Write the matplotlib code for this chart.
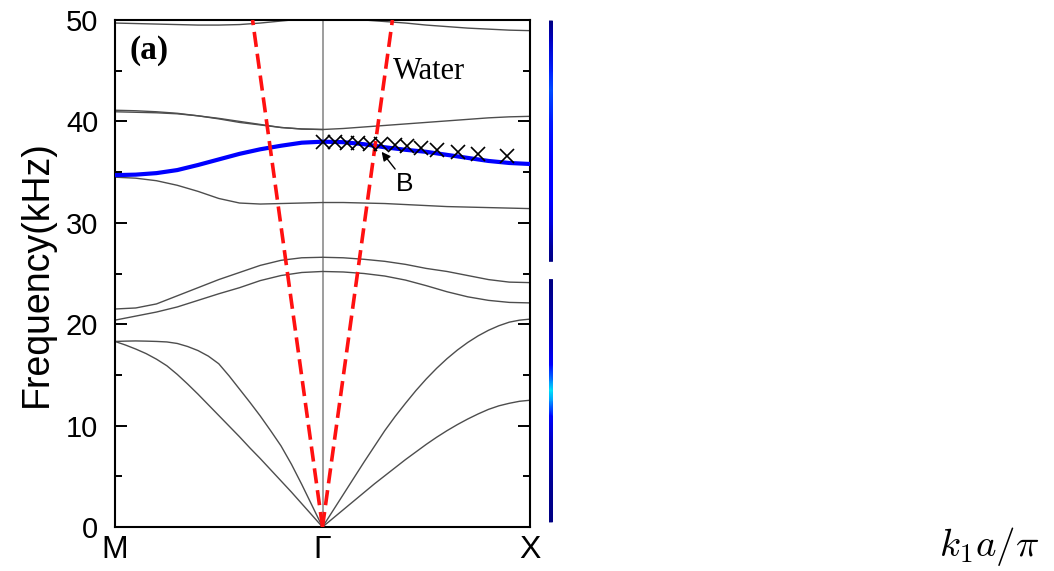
import numpy as np
import matplotlib
matplotlib.use('Agg')
import matplotlib.pyplot as plt
from matplotlib.ticker import MultipleLocator

plt.rcParams['font.family'] = ['Liberation Sans', 'DejaVu Sans']
plt.rcParams['mathtext.fontset'] = 'cm'

# ---------------- data ----------------
# wave-vector coordinate: -1 = M, 0 = Gamma, 1 = X
k_grid = [-1.0, -0.9, -0.8, -0.7, -0.6, -0.5, -0.4, -0.3, -0.2, -0.1, 0.0,
          0.1, 0.2, 0.3, 0.4, 0.5, 0.6, 0.7, 0.8, 0.9, 1.0]
k_left = k_grid[:11]
k_right = k_grid[10:]
k_left_fine = [-1.0, -0.95, -0.9, -0.85, -0.8, -0.75, -0.7, -0.65, -0.6, -0.55,
               -0.5, -0.45, -0.4, -0.35, -0.3, -0.25, -0.2, -0.15, -0.1, -0.05, 0.0]
k_right_fine = [0.0, 0.05, 0.1, 0.15, 0.2, 0.25, 0.3, 0.35, 0.4, 0.45, 0.5,
                0.55, 0.6, 0.65, 0.7, 0.75, 0.8, 0.85, 0.9, 0.95, 1.0]

# acoustic branches (kHz)
acoustic_left_lower = [18.3, 17.95, 17.55, 17.1, 16.55, 15.9, 15.05, 14.1, 13.1, 12.05,
                       11.0, 9.95, 8.9, 7.8, 6.75, 5.65, 4.55, 3.45, 2.3, 1.15, 0.0]
acoustic_left_upper = [18.3, 18.33, 18.35, 18.33, 18.3, 18.25, 18.1, 17.8, 17.4, 16.85,
                       16.1, 14.9, 13.6, 12.3, 10.95, 9.5, 8.0, 6.2, 4.2, 2.1, 0.0]
acoustic_right_upper = [0.0, 1.6, 3.2, 4.8, 6.4, 7.95, 9.5, 10.9, 12.2, 13.45, 14.6,
                        15.65, 16.6, 17.45, 18.2, 18.85, 19.4, 19.85, 20.2, 20.4, 20.5]
acoustic_right_lower = [0.0, 0.85, 1.7, 2.55, 3.4, 4.25, 5.05, 5.85, 6.65, 7.4, 8.15,
                        8.85, 9.5, 10.1, 10.65, 11.15, 11.6, 11.95, 12.2, 12.4, 12.5]

# full bands along M - Gamma - X
band_c = [21.5, 21.6, 22.0, 22.8, 23.6, 24.4, 25.1, 25.8, 26.3, 26.55, 26.6,
          26.55, 26.4, 26.2, 25.9, 25.5, 25.2, 24.8, 24.4, 24.15, 24.1]
band_d = [20.4, 20.8, 21.2, 21.7, 22.35, 23.0, 23.6, 24.3, 24.8, 25.1, 25.2,
          25.15, 25.0, 24.75, 24.35, 23.8, 23.2, 22.7, 22.35, 22.15, 22.1]
band_e = [34.5, 34.4, 34.15, 33.7, 33.1, 32.4, 31.95, 31.85, 31.9, 31.95, 32.0,
          32.0, 31.95, 31.9, 31.8, 31.7, 31.6, 31.55, 31.5, 31.45, 31.4]
band_blue = [34.7, 34.75, 34.9, 35.2, 35.7, 36.25, 36.8, 37.25, 37.6, 37.9, 38.0,
             37.95, 37.75, 37.45, 37.2, 37.0, 36.7, 36.4, 36.1, 35.9, 35.8]
band_f = [40.95, 40.9, 40.85, 40.75, 40.55, 40.3, 40.0, 39.7, 39.4, 39.25, 39.2,
          39.3, 39.45, 39.6, 39.75, 39.9, 40.05, 40.2, 40.35, 40.45, 40.5]
band_f2_left = [41.1, 41.05, 40.95, 40.8, 40.55, 40.25, 39.9, 39.65, 39.4, 39.25, 39.2]
band_g_left = [49.7, 49.65, 49.6, 49.55, 49.5, 49.5, 49.55, 49.7, 49.9, 50.1, 50.2]
band_g_right = [50.2, 50.15, 50.0, 49.85, 49.7, 49.5, 49.35, 49.2, 49.1, 49.0, 48.95]

# water sound line
water_k_left = [0.0, -0.337]
water_k_right = [0.0, 0.337]
water_f = [0.0, 50.0]

# measured points (crosses)
cross_k = [0.0, 0.058, 0.116, 0.169, 0.227, 0.284, 0.347, 0.405, 0.477,
           0.554, 0.651, 0.747, 0.887]
cross_f = [37.95, 37.93, 37.9, 37.85, 37.8, 37.75, 37.65, 37.55, 37.4,
           37.2, 37.0, 36.8, 36.6]

# spectrum strip on the right (frequency, normalised intensity)
spec_top_f = [26.2, 27.8, 29.8, 32.2, 36.2, 40.1, 43.1, 44.9, 48.0, 49.9]
spec_top_v = [0.0, 0.03, 0.08, 0.11, 0.12, 0.15, 0.2, 0.16, 0.06, 0.0]
spec_bot_f = [0.5, 4.6, 8.6, 11.0, 12.5, 13.5, 14.5, 16.0, 17.5, 20.4, 24.4]
spec_bot_v = [0.0, 0.02, 0.06, 0.13, 0.28, 0.35, 0.25, 0.12, 0.08, 0.04, 0.0]

xtick_pos = [-1, 0, 1]
xtick_labels = ['M', 'Γ', 'X']

# ---------------- figure ----------------
W, H = 1054, 571
fig = plt.figure(figsize=(W / 100, H / 100), dpi=100)
ax = fig.add_axes([115 / W, 44 / H, 415 / W, 507 / H])

gray = '#4d4d4d'
lwb = 1.0
ax.plot(k_left_fine, acoustic_left_lower, color=gray, lw=lwb)
ax.plot(k_left_fine, acoustic_left_upper, color=gray, lw=lwb)
ax.plot(k_right_fine, acoustic_right_upper, color=gray, lw=lwb)
ax.plot(k_right_fine, acoustic_right_lower, color=gray, lw=lwb)
for b in (band_c, band_d, band_e, band_f):
    ax.plot(k_grid, b, color=gray, lw=lwb)
ax.plot(k_left, band_f2_left, color=gray, lw=lwb)
ax.plot(k_left, band_g_left, color=gray, lw=lwb)
ax.plot(k_right, band_g_right, color=gray, lw=lwb)

ax.axvline(0, color='#8c8c8c', lw=1.2, zorder=1)

ax.plot(k_grid, band_blue, color='#0000ff', lw=3.0, zorder=3)

for wk in (water_k_left, water_k_right):
    ax.plot(wk, water_f, color='#ff1010', lw=2.6, linestyle=(0, (4.2, 1.9)),
            zorder=4, solid_capstyle='butt')

ax.plot(cross_k, cross_f, linestyle='none', marker='x', color='k',
        ms=9.5, mew=1.2, zorder=5)

ax.annotate('', xy=(0.285, 37.0), xytext=(0.35, 35.3),
            arrowprops=dict(arrowstyle='-|>', color='k', lw=1.0,
                            mutation_scale=13, shrinkA=0, shrinkB=0),
            zorder=6)
ax.text(0.395, 33.8, 'B', fontsize=19, ha='center', va='center')
ax.text(-0.93, 47.0, '(a)', fontsize=24, fontweight='bold',
        family='Liberation Serif', ha='left', va='center')
ax.text(0.34, 44.95, 'Water', fontsize=22, family='Liberation Serif',
        ha='left', va='center')

ax.set_xlim(-1, 1)
ax.set_ylim(0, 50)
ax.set_xticks(xtick_pos)
ax.set_xticklabels(xtick_labels)
ax.yaxis.set_major_locator(MultipleLocator(10))
ax.yaxis.set_minor_locator(MultipleLocator(5))
ax.tick_params(axis='y', which='both', direction='in', left=True, right=True,
               width=1.4, labelsize=21, pad=12)
ax.tick_params(axis='y', which='major', length=8.5)
ax.tick_params(axis='y', which='minor', length=5)
ax.tick_params(axis='x', length=0, labelsize=23, pad=6)
for s in ax.spines.values():
    s.set_linewidth(1.5)
ax.set_ylabel('Frequency(kHz)', fontsize=27, labelpad=8)

# spectrum strip
ax2 = fig.add_axes([548.5 / W, 44 / H, 4 / W, 507 / H])
for sf, sv in ((spec_top_f, spec_top_v), (spec_bot_f, spec_bot_v)):
    X, Y = np.meshgrid([0, 1], sf)
    C = np.column_stack([sv, sv])
    ax2.pcolormesh(X, Y, C, cmap='jet', vmin=0, vmax=1, shading='gouraud')
ax2.set_xlim(0, 1)
ax2.set_ylim(0, 50)
ax2.axis('off')

fig.text(989 / W, 1 - 546 / H, r'$k_1a/\pi$', fontsize=28,
         ha='center', va='center')

fig.savefig('out.png', dpi=100)
